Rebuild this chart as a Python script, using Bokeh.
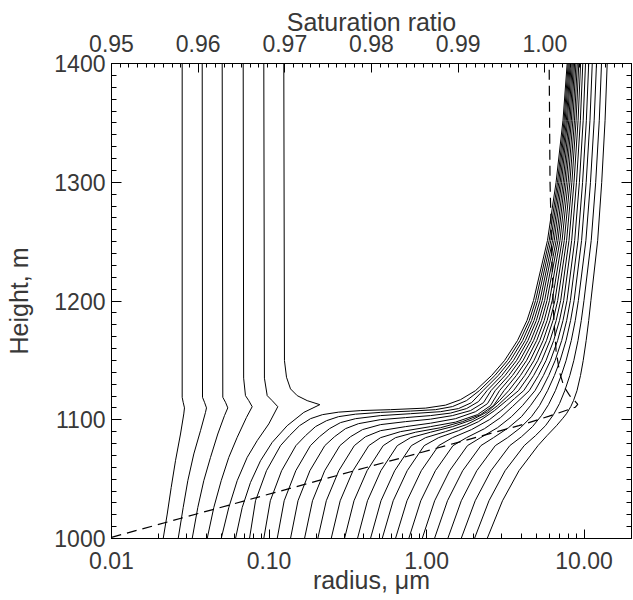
from bokeh.plotting import figure
from bokeh.models import Range1d, LinearAxis, LinearScale, FixedTicker, PrintfTickFormatter
from bokeh.embed import file_html
from bokeh.resources import INLINE

# ---------------- data (radius in micrometres, height in m) ----------------
# unactivated (haze) particles
c01_r = [0.02129, 0.02258, 0.02393, 0.02548, 0.02742, 0.02877, 0.02906, 0.02851, 0.02810, 0.02810]
c01_h = [1000, 1020.6, 1043.0, 1065.5, 1088.0, 1104.9, 1110.0, 1114.7, 1118.9, 1400]
c02_r = [0.02651, 0.02851, 0.03051, 0.03330, 0.03673, 0.03951, 0.04009, 0.03894, 0.03782, 0.03766]
c02_h = [1000, 1026.1, 1048.7, 1071.2, 1090.8, 1106.2, 1110.0, 1114.7, 1118.9, 1400]
c03_r = [0.03253, 0.03530, 0.03854, 0.04251, 0.04728, 0.05215, 0.05474, 0.05293, 0.05088, 0.05043]
c03_h = [1000, 1026.1, 1048.7, 1068.3, 1088.0, 1103.5, 1110.0, 1114.7, 1118.9, 1400]
c04_r = [0.04050, 0.04461, 0.04971, 0.05554, 0.06280, 0.07194, 0.07818, 0.07438, 0.07087, 0.06900, 0.06855]
c04_h = [1000, 1026.1, 1048.7, 1068.3, 1085.2, 1102.0, 1111.0, 1116.1, 1120.3, 1135.0, 1400]
c05_r = [0.04971, 0.05554, 0.06280, 0.07267, 0.08412, 0.09966, 0.1137, 0.1047, 0.09737, 0.0935, 0.09265]
c05_h = [1000, 1026.1, 1048.7, 1068.3, 1082.4, 1096.5, 1111.0, 1116.1, 1120.3, 1135.0, 1400]
c06_r = [0.06126, 0.06757, 0.07627, 0.08829, 0.1047, 0.1304, 0.1663, 0.2101, 0.1747, 0.1510, 0.1369, 0.1291, 0.1253, 0.1241]
c06_h = [1000, 1026.1, 1047.2, 1065.5, 1080.9, 1095.0, 1106.2, 1112.7, 1116.1, 1120.3, 1126.0, 1135.8, 1149.8, 1400]

# activated droplets
c07_r = [0.07517, 0.08206, 0.09637, 0.1183, 0.1349, 0.1561, 0.1833, 0.2185, 0.2761, 0.3808, 0.5903, 0.9846, 1.319, 1.642, 2.045, 2.584, 3.124, 3.778, 4.341, 4.774, 5.858, 6.642, 7.347, 7.812]
c07_h = [1000, 1031.8, 1057.1, 1078.2, 1086.6, 1095.0, 1100.9, 1104.3, 1106.4, 1107.7, 1108.5, 1109.8, 1112.3, 1116.9, 1124.5, 1137.2, 1149.8, 1166.7, 1183.6, 1200.4, 1251.0, 1299.9, 1352.2, 1400]
c08_r = [0.09263, 0.1019, 0.1202, 0.1481, 0.1704, 0.1972, 0.2317, 0.2761, 0.3539, 0.5101, 0.7908, 1.140, 1.461, 1.793, 2.162, 2.711, 3.260, 3.919, 4.489, 4.923, 6.005, 6.780, 7.467, 7.927]
c08_h = [1000, 1031.8, 1057.1, 1078.2, 1086.6, 1094.2, 1099.2, 1102.6, 1104.7, 1106.2, 1107.3, 1108.5, 1111.1, 1116.1, 1124.5, 1137.2, 1149.8, 1166.7, 1183.6, 1200.4, 1251.0, 1299.9, 1352.2, 1400]
c09_r = [0.1127, 0.1248, 0.1479, 0.1831, 0.2091, 0.2420, 0.2843, 0.3539, 0.5101, 0.7908, 1.226, 1.595, 1.929, 2.282, 2.845, 3.401, 4.071, 4.643, 5.076, 6.156, 6.910, 7.587, 8.044]
c09_h = [1000, 1031.8, 1057.1, 1078.2, 1085.7, 1092.5, 1097.6, 1100.9, 1103.5, 1105.1, 1106.8, 1109.4, 1114.4, 1124.5, 1137.2, 1149.8, 1166.7, 1183.6, 1200.4, 1251.0, 1299.9, 1352.2, 1400]
c10_r = [0.1369, 0.1527, 0.1817, 0.2260, 0.2604, 0.3058, 0.3698, 0.5101, 0.7351, 1.059, 1.419, 1.793, 2.137, 2.419, 2.995, 3.558, 4.235, 4.809, 5.250, 6.311, 7.052, 7.721, 8.162]
c10_h = [1000, 1031.8, 1057.1, 1078.2, 1085.7, 1092.5, 1096.7, 1100.1, 1101.8, 1103.5, 1105.6, 1109.4, 1115.3, 1124.5, 1137.2, 1149.8, 1166.7, 1183.6, 1200.4, 1251.0, 1299.9, 1352.2, 1400]
c11_r = [0.1680, 0.1888, 0.2256, 0.2818, 0.3290, 0.3921, 0.5101, 0.7351, 1.059, 1.461, 1.901, 2.299, 2.565, 3.147, 3.723, 4.399, 4.980, 5.421, 6.470, 7.198, 7.847, 8.283]
c11_h = [1000, 1031.8, 1057.1, 1078.2, 1085.7, 1091.7, 1095.9, 1098.4, 1100.5, 1103.5, 1107.7, 1114.4, 1124.5, 1137.2, 1149.8, 1166.7, 1183.6, 1200.4, 1251.0, 1299.9, 1352.2, 1400]
c12_r = [0.2040, 0.2310, 0.2773, 0.3478, 0.4096, 0.5101, 0.7351, 1.059, 1.527, 2.045, 2.437, 2.727, 3.322, 3.902, 4.589, 5.166, 5.615, 6.652, 7.368, 7.998, 8.416]
c12_h = [1000, 1031.8, 1057.1, 1078.2, 1085.7, 1090.8, 1094.2, 1097.1, 1100.9, 1106.8, 1113.6, 1124.5, 1137.2, 1149.8, 1166.7, 1183.6, 1200.4, 1251.0, 1299.9, 1352.2, 1400]
c13_r = [0.2481, 0.2830, 0.3412, 0.4299, 0.5101, 0.6832, 1.059, 1.527, 2.106, 2.546, 2.904, 3.507, 4.095, 4.781, 5.366, 5.815, 6.829, 7.532, 8.150, 8.554]
c13_h = [1000, 1031.8, 1057.1, 1078.2, 1084.9, 1090.0, 1094.2, 1098.0, 1104.3, 1111.9, 1124.5, 1137.2, 1149.8, 1166.7, 1183.6, 1200.4, 1251.0, 1299.9, 1352.2, 1400]
c14_r = [0.3014, 0.3463, 0.4193, 0.5306, 0.6351, 0.8507, 1.226, 1.691, 2.200, 2.660, 3.102, 3.713, 4.309, 5.002, 5.582, 6.032, 7.032, 7.710, 8.307, 8.705]
c14_h = [1000, 1031.8, 1057.1, 1078.2, 1084.9, 1089.5, 1093.3, 1098.4, 1104.3, 1111.9, 1124.5, 1137.2, 1149.8, 1166.7, 1183.6, 1200.4, 1251.0, 1299.9, 1352.2, 1400]
c15_r = [0.3644, 0.4218, 0.5131, 0.6520, 0.7908, 1.059, 1.461, 1.957, 2.437, 2.904, 3.322, 3.942, 4.542, 5.234, 5.824, 6.275, 7.251, 7.915, 8.490, 8.872]
c15_h = [1000, 1031.8, 1057.1, 1078.2, 1084.9, 1089.5, 1094.2, 1100.1, 1106.8, 1116.1, 1124.5, 1137.2, 1149.8, 1166.7, 1183.6, 1200.4, 1251.0, 1299.9, 1352.2, 1400]
c16_r = [0.4407, 0.5138, 0.6277, 0.8012, 0.9846, 1.319, 1.793, 2.333, 2.821, 3.564, 4.197, 4.802, 5.493, 6.076, 6.527, 7.488, 8.127, 8.692, 9.055]
c16_h = [1000, 1031.8, 1057.1, 1078.2, 1084.9, 1090.0, 1095.9, 1103.5, 1111.9, 1124.5, 1137.2, 1149.8, 1166.7, 1183.6, 1200.4, 1251.0, 1299.9, 1352.2, 1400]
c17_r = [0.5229, 0.6141, 0.7535, 0.9661, 1.191, 1.595, 2.137, 2.700, 3.217, 3.834, 4.477, 5.076, 5.773, 6.348, 6.800, 7.744, 8.367, 8.898, 9.256]
c17_h = [1000, 1031.8, 1057.1, 1078.2, 1084.9, 1090.8, 1098.4, 1107.7, 1116.1, 1124.5, 1137.2, 1149.8, 1166.7, 1183.6, 1200.4, 1251.0, 1299.9, 1352.2, 1400]
c18_r = [0.6351, 0.7513, 0.9260, 1.193, 1.461, 1.929, 2.509, 3.079, 3.616, 4.137, 4.781, 5.382, 6.076, 6.652, 7.104, 8.021, 8.629, 9.161, 9.503]
c18_h = [1000, 1031.8, 1057.1, 1078.2, 1084.9, 1091.7, 1100.1, 1109.4, 1117.8, 1124.5, 1137.2, 1149.8, 1166.7, 1183.6, 1200.4, 1251.0, 1299.9, 1352.2, 1400]
c19_r = [0.7714, 0.9193, 1.138, 1.472, 1.793, 2.333, 2.947, 3.512, 4.489, 5.129, 5.730, 6.413, 6.981, 7.422, 8.343, 8.950, 9.474, 9.812]
c19_h = [1000, 1031.8, 1057.1, 1078.2, 1084.9, 1092.5, 1101.8, 1111.1, 1124.5, 1137.2, 1149.8, 1166.7, 1183.6, 1200.4, 1251.0, 1299.9, 1352.2, 1400]
c20_r = [0.9382, 1.126, 1.401, 1.819, 2.200, 2.821, 3.461, 4.065, 4.880, 5.517, 6.111, 6.790, 7.347, 7.790, 8.717, 9.337, 9.871, 10.21]
c20_h = [1000, 1031.8, 1057.1, 1078.2, 1084.9, 1093.3, 1102.6, 1111.9, 1124.5, 1137.2, 1149.8, 1166.7, 1183.6, 1200.4, 1251.0, 1299.9, 1352.2, 1400]
c21_r = [1.123, 1.358, 1.696, 2.213, 2.660, 3.312, 4.006, 4.569, 5.335, 5.962, 6.546, 7.209, 7.755, 8.186, 9.148, 9.784, 10.34, 10.70]
c21_h = [1000, 1031.8, 1057.1, 1078.2, 1084.9, 1093.3, 1102.6, 1111.9, 1124.5, 1137.2, 1149.8, 1166.7, 1183.6, 1200.4, 1251.0, 1299.9, 1352.2, 1400]
c22_r = [1.364, 1.662, 2.084, 2.731, 3.265, 3.948, 4.636, 5.211, 5.866, 6.479, 7.042, 7.688, 8.211, 8.642, 9.642, 10.31, 10.90, 11.27]
c22_h = [1000, 1031.8, 1057.1, 1078.2, 1084.9, 1093.3, 1102.6, 1111.9, 1124.5, 1137.2, 1149.8, 1166.7, 1183.6, 1200.4, 1251.0, 1299.9, 1352.2, 1400]
c23_r = [1.659, 2.036, 2.565, 3.376, 4.006, 4.705, 5.366, 5.944, 6.574, 7.157, 7.688, 8.295, 8.794, 9.201, 10.27, 10.98, 11.59, 11.99]
c23_h = [1000, 1031.8, 1057.1, 1078.2, 1085.7, 1094.2, 1103.5, 1112.7, 1124.5, 1137.2, 1149.8, 1166.7, 1183.6, 1200.4, 1251.0, 1299.9, 1352.2, 1400]
c24_r = [2.015, 2.491, 3.152, 4.167, 4.915, 5.689, 6.394, 6.981, 7.543, 8.115, 8.604, 9.148, 9.601, 9.986, 11.10, 11.85, 12.49, 12.90]
c24_h = [1000, 1031.8, 1057.1, 1078.2, 1086.6, 1095.0, 1104.3, 1113.6, 1124.5, 1137.2, 1149.8, 1166.7, 1183.6, 1200.4, 1251.0, 1299.9, 1352.2, 1400]
c25_r = [2.426, 3.035, 3.862, 5.098, 5.815, 6.681, 7.294, 7.733, 8.234, 8.566, 9.016, 9.489, 9.871, 10.31, 10.70, 11.05, 12.20, 12.94, 13.59, 14.02]
c25_h = [1000, 1031.8, 1057.1, 1078.2, 1086.6, 1095.0, 1100.9, 1105.1, 1111.1, 1116.1, 1124.5, 1137.2, 1149.8, 1166.7, 1183.6, 1200.4, 1251.0, 1299.9, 1352.2, 1400]

# saturation ratio profile (top axis)
sat_s = [0.950, 0.970, 0.990, 0.997, 1.0005, 1.0025, 1.0035, 1.0038, 1.0035, 1.0029, 1.0022, 1.0017, 1.0013, 1.0010, 1.0008, 1.0006, 1.0005]
sat_h = [1001, 1041, 1081, 1095, 1103, 1108, 1110.5, 1113, 1115.5, 1120, 1128, 1140, 1158, 1190, 1240, 1300, 1400]

# axis ticks / labels
x_major = [0.01, 0.1, 1.0, 10.0]
y_major = [1000, 1100, 1200, 1300, 1400]
s_major = [0.95, 0.96, 0.97, 0.98, 0.99, 1.00]
x_label = "radius, \u03bcm"
y_label = "Height, m"
s_label = "Saturation ratio"

curves = [(c01_r, c01_h), (c02_r, c02_h), (c03_r, c03_h), (c04_r, c04_h), (c05_r, c05_h),
          (c06_r, c06_h), (c07_r, c07_h), (c08_r, c08_h), (c09_r, c09_h), (c10_r, c10_h),
          (c11_r, c11_h), (c12_r, c12_h), (c13_r, c13_h), (c14_r, c14_h), (c15_r, c15_h),
          (c16_r, c16_h), (c17_r, c17_h), (c18_r, c18_h), (c19_r, c19_h), (c20_r, c20_h),
          (c21_r, c21_h), (c22_r, c22_h), (c23_r, c23_h), (c24_r, c24_h), (c25_r, c25_h)]

x_minor = [m * d for d in x_major for m in range(2, 10)]
y_minor = list(range(1000, 1401, 10))
s_minor = [round(0.95 + 0.001 * i, 3) for i in range(61)]

FONT = "Liberation Sans"
TICK_SIZE = "23px"
TITLE_SIZE = "25px"
TCOL = "#383838"

# Bokeh's standalone page has no body margin, so the canvas can use the full window
W, H = 633, 600
LEFT, RIGHT, TOP, BOTTOM = 111, 2, 63, 62

p = figure(width=W, height=H, x_axis_type="log",
           x_range=Range1d(0.01, 20), y_range=Range1d(1000, 1400),
           output_backend="svg", toolbar_location=None,
           min_border_left=LEFT, min_border_right=RIGHT, min_border_top=TOP, min_border_bottom=BOTTOM)
p.extra_x_ranges = {"sat": Range1d(0.95, 1.01)}
p.extra_x_scales = {"sat": LinearScale()}
p.xgrid.visible = False
p.ygrid.visible = False
p.outline_line_color = "black"
p.background_fill_color = "white"
p.border_fill_color = "white"


def style(ax, major_len=10, minor_len=5):
    ax.axis_line_color = "black"
    ax.major_tick_line_color = "black"
    ax.minor_tick_line_color = "black"
    ax.major_tick_in = major_len
    ax.major_tick_out = 0
    ax.minor_tick_in = minor_len
    ax.minor_tick_out = 0
    ax.major_label_text_font = FONT
    ax.major_label_text_font_size = TICK_SIZE
    ax.major_label_text_color = TCOL
    ax.axis_label_text_font = FONT
    ax.axis_label_text_font_size = TITLE_SIZE
    ax.axis_label_text_font_style = "normal"
    ax.axis_label_text_color = TCOL


xb = p.xaxis[0]
xb.ticker = FixedTicker(ticks=x_major, minor_ticks=x_minor)
xb.formatter = PrintfTickFormatter(format="%.2f")
xb.axis_label = x_label
style(xb, 9, 5)
xb.major_label_standoff = 13
xb.axis_label_standoff = -6

yl = p.yaxis[0]
yl.ticker = FixedTicker(ticks=y_major, minor_ticks=y_minor)
yl.formatter = PrintfTickFormatter(format="%d")
yl.axis_label = y_label
style(yl, 10, 5)
yl.major_label_standoff = 6
yl.axis_label_standoff = 18

top = LinearAxis(x_range_name="sat", ticker=FixedTicker(ticks=s_major, minor_ticks=s_minor),
                 formatter=PrintfTickFormatter(format="%.2f"), axis_label=s_label)
style(top, 9, 4)
top.major_label_standoff = 12
top.axis_label_standoff = -4
p.add_layout(top, "above")

right = LinearAxis(ticker=FixedTicker(ticks=y_major, minor_ticks=y_minor))
style(right, 10, 5)
right.major_label_text_font_size = "0px"
right.major_label_text_color = None
right.major_label_standoff = 0
p.add_layout(right, "right")

for r, h in curves:
    p.line(r, h, line_color="black", line_width=1)

p.line(sat_s, sat_h, x_range_name="sat", line_color="black", line_width=1.2, line_dash="10 6")

open("out.html", "w").write(file_html(p, INLINE))
